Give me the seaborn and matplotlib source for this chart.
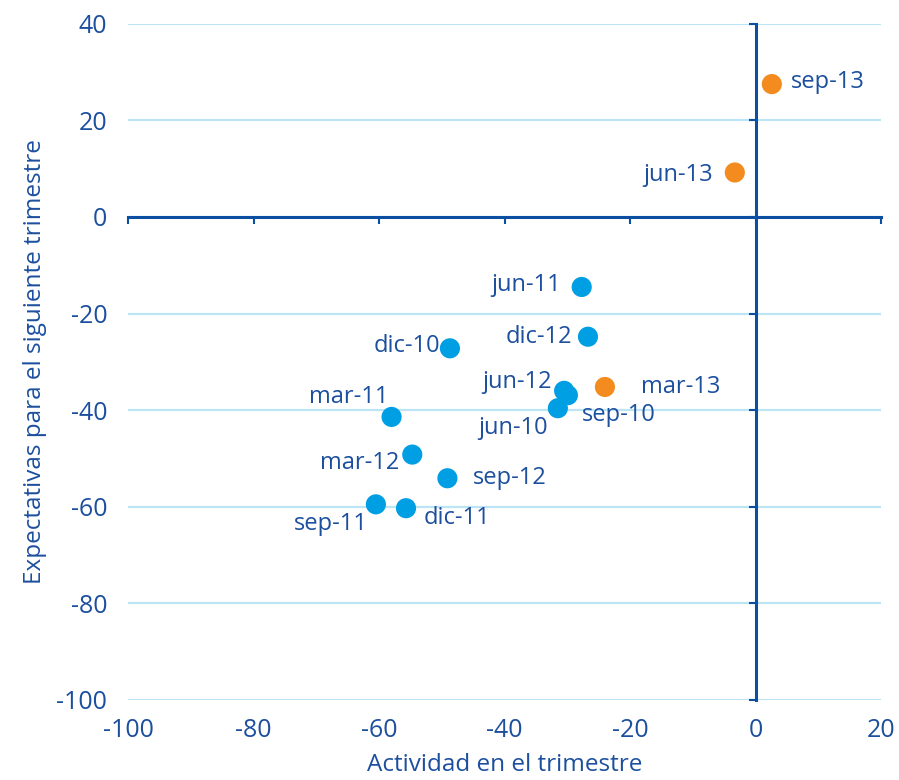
import numpy as np
import pandas as pd
import matplotlib
matplotlib.use("Agg")
import matplotlib.pyplot as plt
import seaborn as sns

# Datos
etiquetas = ["jun-10", "sep-10", "dic-10", "mar-11", "jun-11", "sep-11", "dic-11",
             "mar-12", "jun-12", "sep-12", "dic-12", "mar-13", "jun-13", "sep-13"]
actividad = [-31.5, -29.9, -48.7, -58.0, -27.7, -60.5, -55.7,
             -54.7, -30.5, -49.1, -26.7, -24.0, -3.3, 2.6]
expectativas = [-39.6, -36.9, -27.2, -41.4, -14.5, -59.5, -60.3,
                -49.2, -36.0, -54.1, -24.8, -35.2, 9.2, 27.5]

x_ticks = [-100, -80, -60, -40, -20, 0, 20]
y_ticks = [-100, -80, -60, -40, -20, 0, 20, 40]

df = pd.DataFrame({"etiqueta": etiquetas, "actividad": actividad,
                   "expectativas": expectativas})
df["grupo"] = np.where(df["etiqueta"].str.endswith("13"), "2013", "anterior")

azul_txt = "#1c4f9e"
azul_eje = "#0b4ea2"
azul_pto = "#009ee2"
naranja = "#f38b1f"
grid_col = "#bde4f5"

# desplazamientos de las etiquetas (puntos) y alineacion
offsets = {
    "sep-13": (14, 1.5, "left"), "jun-13": (-16, -1.5, "right"),
    "jun-11": (-15, 1.5, "right"), "dic-12": (-11.5, 0, "right"),
    "dic-10": (-7, 1.5, "right"), "jun-12": (-9, 6.5, "right"),
    "sep-10": (10, -14.5, "left"), "jun-10": (-7.5, -14.5, "right"),
    "mar-13": (26, 0, "left"), "mar-11": (-2.5, 14, "right"),
    "mar-12": (-9.5, -6, "right"), "sep-12": (18, 0.5, "left"),
    "sep-11": (-5.5, -14, "right"), "dic-11": (13, -7, "left"),
}

sns.set_style("white")
plt.rcParams["font.family"] = ["Open Sans", "DejaVu Sans"]
plt.rcParams["axes.unicode_minus"] = False

fig = plt.figure(figsize=(8.99, 7.80), dpi=100)
ax = fig.add_axes([0.1424, 0.1026, 0.98 - 0.1424, 0.9696 - 0.1026])

sns.scatterplot(data=df, x="actividad", y="expectativas", hue="grupo",
                palette={"anterior": azul_pto, "2013": naranja},
                s=210, linewidth=0, legend=False, ax=ax, zorder=5)

for _, r in df.iterrows():
    dx, dy, ha = offsets[r["etiqueta"]]
    ax.annotate(r["etiqueta"], (r["actividad"], r["expectativas"]),
                xytext=(dx, dy), textcoords="offset points", ha=ha, va="center",
                fontsize=17, color=azul_txt)

ax.set_xlim(-100, 20)
ax.set_ylim(-100, 40)
ax.set_xlabel("")
ax.set_ylabel("")

# lineas de cuadricula horizontales
ax.set_yticks(y_ticks)
ax.set_xticks(x_ticks)
ax.yaxis.grid(True, color=grid_col, linewidth=1.6)
ax.xaxis.grid(False)

# ejes cruzados en el origen
for s in ["top", "right"]:
    ax.spines[s].set_visible(False)
ax.spines["left"].set_position(("data", 0))
ax.spines["bottom"].set_position(("data", 0))
ax.spines["left"].set_color(azul_eje)
ax.spines["bottom"].set_color(azul_eje)
ax.spines["left"].set_linewidth(2.2)
ax.spines["bottom"].set_linewidth(2.2)
ax.tick_params(axis="both", direction="out", length=5, width=1.5,
               color=azul_eje, bottom=True, left=True,
               labelbottom=False, labelleft=False)

# etiquetas de los ejes en los bordes
secx = ax.secondary_xaxis("bottom")
secx.set_xticks(x_ticks)
secx.spines["bottom"].set_visible(False)
secx.tick_params(length=0, labelsize=18, labelcolor=azul_txt, pad=13)
secy = ax.secondary_yaxis("left")
secy.set_yticks(y_ticks)
secy.spines["left"].set_visible(False)
secy.tick_params(length=0, labelsize=18, labelcolor=azul_txt, pad=15)

secx.set_xlabel("Actividad en el trimestre", fontsize=17.5, color=azul_txt, labelpad=7)
secy.set_ylabel("Expectativas para el siguiente trimestre", fontsize=17.5,
                color=azul_txt, labelpad=7)

fig.savefig("out.png", dpi=100)
